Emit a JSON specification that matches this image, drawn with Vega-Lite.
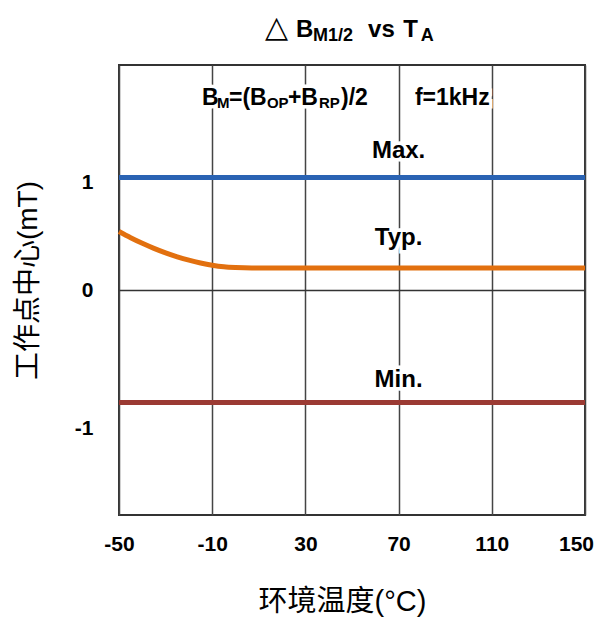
{
  "$schema": "https://vega.github.io/schema/vega-lite/v6.json",
  "width": 466,
  "height": 450,
  "autosize": {"type": "none"},
  "padding": {"left": 119, "top": 65, "right": 13, "bottom": 105},
  "background": "white",
  "config": {"view": {"stroke": "#333", "strokeWidth": 2}, "font": "Liberation Sans"},
  "datasets": {
    "curves": [
      {"T": -50, "v": 1, "series": "Max"},
      {"T": 150, "v": 1, "series": "Max"},
      {"T": -50, "v": 0.52, "series": "Typ"},
      {"T": -45, "v": 0.465, "series": "Typ"},
      {"T": -40, "v": 0.415, "series": "Typ"},
      {"T": -35, "v": 0.37, "series": "Typ"},
      {"T": -30, "v": 0.33, "series": "Typ"},
      {"T": -25, "v": 0.295, "series": "Typ"},
      {"T": -20, "v": 0.265, "series": "Typ"},
      {"T": -15, "v": 0.24, "series": "Typ"},
      {"T": -10, "v": 0.22, "series": "Typ"},
      {"T": -5, "v": 0.206, "series": "Typ"},
      {"T": 0, "v": 0.199, "series": "Typ"},
      {"T": 7, "v": 0.195, "series": "Typ"},
      {"T": 150, "v": 0.195, "series": "Typ"},
      {"T": -50, "v": -1, "series": "Min"},
      {"T": 150, "v": -1, "series": "Min"}
    ],
    "texts": [
      {"txt": "Max.", "T": 70, "v": 1.173, "kind": "label"},
      {"txt": "Typ.", "T": 70, "v": 0.4, "kind": "label"},
      {"txt": "Min.", "T": 70, "v": -0.862, "kind": "label"},
      {"txt": "△", "T": 12.5, "v": 2.245, "kind": "tri"},
      {"txt": "B", "T": 26, "v": 2.249, "kind": "title"},
      {"txt": "M1/2", "T": 33.3, "v": 2.21, "kind": "titlesub"},
      {"txt": "vs", "T": 56.9, "v": 2.249, "kind": "title"},
      {"txt": "T", "T": 72, "v": 2.249, "kind": "title"},
      {"txt": "A", "T": 79.5, "v": 2.21, "kind": "titlesub"},
      {"txt": "B", "T": -14.4, "v": 1.644, "kind": "main"},
      {"txt": "M", "T": -7.9, "v": 1.618, "kind": "sub"},
      {"txt": "=(B", "T": -2.8, "v": 1.644, "kind": "main"},
      {"txt": "OP", "T": 13.5, "v": 1.618, "kind": "sub"},
      {"txt": "+B", "T": 22.5, "v": 1.644, "kind": "main"},
      {"txt": "RP", "T": 35.8, "v": 1.618, "kind": "sub"},
      {"txt": ")/2", "T": 45.3, "v": 1.644, "kind": "main"},
      {"txt": "f=1kHz", "T": 77, "v": 1.644, "kind": "main"}
    ]
  },
  "encoding": {
    "x": {
      "field": "T", "type": "quantitative",
      "scale": {"domain": [-50, 150], "nice": false, "zero": false},
      "axis": {
        "values": [-50, -10, 30, 70, 110, 150],
        "title": "环境温度(°C)",
        "grid": true, "gridColor": "#444", "gridWidth": 1.5,
        "ticks": false, "domain": false,
        "labelFont": "Liberation Sans", "labelFontWeight": "bold", "labelFontSize": 21, "labelColor": "#000",
        "labelPadding": 18, "labelFlush": false, "labelOverlap": false, "labelBound": false,
        "labelOffset": {"condition": {"test": "datum.value === 150", "value": -9}, "value": 0},
        "labelExpr": "datum.value + ''",
        "titleFont": "Liberation Sans, Noto Sans CJK SC", "titleFontSize": 29, "titleFontWeight": "normal",
        "titleColor": "#000", "titlePadding": 33, "titleX": 223
      }
    },
    "y": {
      "field": "v", "type": "quantitative",
      "scale": {"domain": [-2, 2], "nice": false, "zero": false},
      "axis": {
        "values": [-1, 0, 1],
        "title": "工作点中心(mT)",
        "grid": true, "gridColor": "#333", "gridWidth": 1.5,
        "gridOpacity": {"condition": {"test": "datum.value === 0", "value": 1}, "value": 0},
        "ticks": false, "domain": false,
        "labelFont": "Liberation Sans", "labelFontWeight": "bold", "labelFontSize": 21, "labelColor": "#000",
        "labelPadding": 26, "labelOverlap": false, "labelBound": false,
        "labelOffset": {"condition": [{"test": "datum.value === 1", "value": 5}, {"test": "datum.value === -1", "value": 26}], "value": 0},
        "labelExpr": "datum.value + ''",
        "titleFont": "Liberation Sans, Noto Sans CJK SC", "titleFontSize": 28, "titleFontWeight": "normal",
        "titleColor": "#000", "titlePadding": 32, "titleY": 215
      }
    }
  },
  "layer": [
    {
      "data": {"name": "curves"},
      "mark": {"type": "line", "strokeWidth": 5, "interpolate": "monotone"},
      "encoding": {
        "color": {"field": "series", "type": "nominal",
          "scale": {"domain": ["Max", "Typ", "Min"], "range": ["#2a63b3", "#e2700f", "#9b3a33"]},
          "legend": null}
      }
    },
    {
      "data": {"name": "texts"},
      "transform": [{"filter": "datum.kind === 'label'"}],
      "mark": {"type": "text", "align": "center", "baseline": "alphabetic", "fontSize": 24, "fontWeight": "bold", "stroke": "white", "strokeWidth": 7, "fill": "white"},
      "encoding": {"text": {"field": "txt"}}
    },
    {
      "data": {"name": "texts"},
      "transform": [{"filter": "datum.kind === 'label'"}],
      "mark": {"type": "text", "align": "center", "baseline": "alphabetic", "fontSize": 24, "fontWeight": "bold", "color": "#000"},
      "encoding": {"text": {"field": "txt"}}
    },
    {
      "data": {"name": "texts"},
      "transform": [{"filter": "datum.kind === 'main'"}],
      "mark": {"type": "text", "align": "left", "baseline": "alphabetic", "fontSize": 23, "fontWeight": "bold", "stroke": "white", "strokeWidth": 7, "fill": "white"},
      "encoding": {"text": {"field": "txt"}}
    },
    {
      "data": {"name": "texts"},
      "transform": [{"filter": "datum.kind === 'sub'"}],
      "mark": {"type": "text", "align": "left", "baseline": "alphabetic", "fontSize": 15, "fontWeight": "bold", "stroke": "white", "strokeWidth": 7, "fill": "white"},
      "encoding": {"text": {"field": "txt"}}
    },
    {
      "data": {"name": "texts"},
      "transform": [{"filter": "datum.kind === 'main'"}],
      "mark": {"type": "text", "align": "left", "baseline": "alphabetic", "fontSize": 23, "fontWeight": "bold", "color": "#000"},
      "encoding": {"text": {"field": "txt"}}
    },
    {
      "data": {"name": "texts"},
      "transform": [{"filter": "datum.kind === 'sub'"}],
      "mark": {"type": "text", "align": "left", "baseline": "alphabetic", "fontSize": 15, "fontWeight": "bold", "color": "#000"},
      "encoding": {"text": {"field": "txt"}}
    },
    {
      "data": {"name": "texts"},
      "transform": [{"filter": "datum.kind === 'tri'"}],
      "mark": {"type": "text", "align": "left", "baseline": "alphabetic", "fontSize": 30, "fontWeight": "normal", "color": "#000"},
      "encoding": {"text": {"field": "txt"}}
    },
    {
      "data": {"name": "texts"},
      "transform": [{"filter": "datum.kind === 'title'"}],
      "mark": {"type": "text", "align": "left", "baseline": "alphabetic", "fontSize": 24, "fontWeight": "bold", "color": "#000"},
      "encoding": {"text": {"field": "txt"}}
    },
    {
      "data": {"name": "texts"},
      "transform": [{"filter": "datum.kind === 'titlesub'"}],
      "mark": {"type": "text", "align": "left", "baseline": "alphabetic", "fontSize": 18, "fontWeight": "bold", "color": "#000"},
      "encoding": {"text": {"field": "txt"}}
    }
  ]
}
